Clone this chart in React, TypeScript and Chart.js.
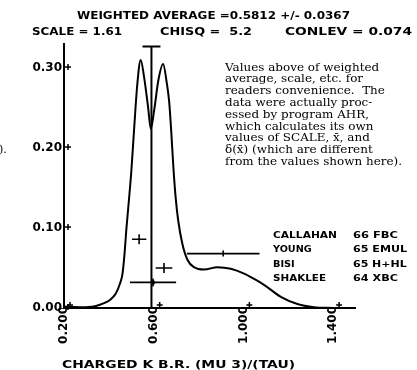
import React, { useEffect, useRef } from "react";
import { Chart, registerables } from "chart.js";

Chart.register(...registerables);

// Ideogram curve
const curveX = [0.2, 0.28, 0.334, 0.379, 0.409, 0.431, 0.45, 0.461, 0.47, 0.478, 0.488, 0.5, 0.513, 0.527, 0.542, 0.557, 0.575, 0.587, 0.602, 0.621, 0.642, 0.658, 0.669, 0.678, 0.688, 0.698, 0.709, 0.728, 0.751, 0.78, 0.825, 0.884, 0.944, 1.003, 1.05, 1.092, 1.167, 1.241, 1.315, 1.4];
const curveY = [0.002, 0.001, 0.002, 0.006, 0.011, 0.018, 0.031, 0.043, 0.068, 0.098, 0.13, 0.17, 0.225, 0.28, 0.31, 0.289, 0.251, 0.224, 0.247, 0.285, 0.305, 0.282, 0.258, 0.222, 0.175, 0.138, 0.11, 0.08, 0.06, 0.051, 0.048, 0.051, 0.049, 0.043, 0.036, 0.029, 0.014, 0.005, 0.001, 0.0];

// Measurements: centre, error, plotted height
const measX = [0.535, 0.646, 0.597, 0.91];
const measErr = [0.032, 0.037, 0.103, 0.162];
const measY = [0.086, 0.05, 0.032, 0.068];

// Weighted average marker
const avgX = 0.59;
const avgErr = 0.04;
const avgTop = 0.327;

const xTicks = [0.2, 0.6, 1.0, 1.4];
const xTickLabels = ["0.200", "0.600", "1.000", "1.400"];
const yTicks = [0, 0.1, 0.2, 0.3];
const yTickLabels = ["0.00", "0.10", "0.20", "0.30"];

const legendNames = ["CALLAHAN", "YOUNG", "BISI", "SHAKLEE"];
const legendInfo = ["66 FBC", "65 EMUL", "65 H+HL", "64 XBC"];

const titleLine = "WEIGHTED AVERAGE =0.5812 +/- 0.0367";
const statTexts = ["SCALE = 1.61", "CHISQ =  5.2", "CONLEV = 0.074"];
const xTitle = "CHARGED K B.R. (MU 3)/(TAU)";

const noteLines = [
  "Values above of weighted",
  "average, scale, etc. for",
  "readers convenience.  The",
  "data were actually proc-",
  "essed by program AHR,",
  "which calculates its own",
  "values of SCALE, x\u0304, and",
  "\u03b4(x\u0304) (which are different",
  "from the values shown here).",
];

const PLOT_FONT = "'DejaVu Sans', sans-serif";

function fitText(ctx: CanvasRenderingContext2D, text: string, x: number, y: number, w: number) {
  const m = ctx.measureText(text).width;
  ctx.save();
  ctx.translate(x, y);
  ctx.scale(w / m, 1);
  ctx.fillText(text, 0, 0);
  ctx.restore();
}

const decorPlugin = {
  id: "decor",
  afterDraw(chart: any) {
    const ctx: CanvasRenderingContext2D = chart.ctx;
    const xs = chart.scales.x;
    const ys = chart.scales.y;
    ctx.save();
    ctx.fillStyle = "#000";
    ctx.strokeStyle = "#000";
    ctx.textAlign = "left";
    ctx.textBaseline = "alphabetic";

    // plus-shaped tick marks
    ctx.lineWidth = 1.5;
    const plus = (cx: number, cy: number) => {
      ctx.beginPath();
      ctx.moveTo(cx - 3, cy);
      ctx.lineTo(cx + 3, cy);
      ctx.moveTo(cx, cy - 3);
      ctx.lineTo(cx, cy + 3);
      ctx.stroke();
    };
    xTicks.forEach((v) => plus(xs.getPixelForValue(v) + 6, ys.bottom - 3));
    yTicks.forEach((v) => plus(xs.left + 4, ys.getPixelForValue(v) - 1));

    // header
    ctx.font = "bold 11px " + PLOT_FONT;
    fitText(ctx, titleLine, 77, 18.5, 273);
    fitText(ctx, statTexts[0], 32, 35, 90);
    fitText(ctx, statTexts[1], 160, 35, 92);
    fitText(ctx, statTexts[2], 285, 35, 127);

    // legend
    ctx.font = "bold 9.5px " + PLOT_FONT;
    const nameW = [64, 38.7, 21.7, 53];
    const infoW = [45, 54, 53.7, 45];
    const base = [237.5, 252, 266.5, 281];
    legendNames.forEach((n, i) => {
      fitText(ctx, n, 273, base[i], nameW[i]);
      fitText(ctx, legendInfo[i], 353, base[i], infoW[i]);
    });

    // x axis title
    ctx.font = "bold 10.5px " + PLOT_FONT;
    fitText(ctx, xTitle, 62, 368, 233);

    // note text
    ctx.font = "10.5px 'DejaVu Serif', serif";
    const last = noteLines[noteLines.length - 1];
    const sx = 177 / ctx.measureText(last).width;
    noteLines.forEach((l, i) => {
      ctx.save();
      ctx.translate(225, 70.5 + i * 11.8);
      ctx.scale(sx, 1);
      ctx.fillText(l, 0, 0);
      ctx.restore();
    });
    // remnant of neighbouring text at left edge
    ctx.font = "11px 'DejaVu Serif', serif";
    ctx.fillText(").", -1, 153);
    ctx.restore();
  },
};

export default function App() {
  const ref = useRef<HTMLCanvasElement | null>(null);
  useEffect(() => {
    if (!ref.current) return;
    const black = "#000";
    const datasets: any[] = [];
    datasets.push({
      data: curveX.map((x, i) => ({ x, y: curveY[i] })),
      showLine: true,
      borderColor: black,
      borderWidth: 2,
      pointRadius: 0,
      cubicInterpolationMode: "monotone",
    });
    datasets.push({
      data: [{ x: avgX, y: 0 }, { x: avgX, y: avgTop }],
      showLine: true,
      borderColor: black,
      borderWidth: 2,
      pointRadius: 0,
    });
    datasets.push({
      data: [{ x: avgX - avgErr, y: avgTop }, { x: avgX + avgErr, y: avgTop }],
      showLine: true,
      borderColor: black,
      borderWidth: 2,
      pointRadius: 0,
    });
    measX.forEach((mx, i) => {
      datasets.push({
        data: [{ x: mx - measErr[i], y: measY[i] }, { x: mx + measErr[i], y: measY[i] }],
        showLine: true,
        borderColor: black,
        borderWidth: 1.6,
        pointRadius: 0,
      });
    });
    datasets.push({
      data: measX.map((x, i) => ({ x, y: measY[i] })),
      showLine: false,
      pointStyle: "line",
      rotation: 90,
      pointRadius: [5, 5, 4, 3],
      borderColor: black,
      borderWidth: 1.6,
    });
    datasets.push({
      data: [{ x: measX[2], y: measY[2] }],
      showLine: false,
      pointStyle: "circle",
      pointRadius: 2.2,
      backgroundColor: black,
      borderColor: black,
      borderWidth: 0,
    });

    const tickFont = { family: PLOT_FONT, size: 12, weight: "bold" as const };
    const chart = new Chart(ref.current, {
      type: "scatter",
      data: { datasets },
      options: {
        animation: false,
        responsive: false,
        devicePixelRatio: 1,
        events: [],
        layout: { padding: { left: 0, top: 44, right: 61.5, bottom: 0 } },
        plugins: { legend: { display: false }, tooltip: { enabled: false }, title: { display: false } },
        scales: {
          x: {
            type: "linear",
            position: "bottom",
            min: 0.2,
            max: 1.5,
            grid: { display: false, drawTicks: false, tickLength: 0 },
            border: { display: true, color: black, width: 2 },
            afterBuildTicks: (s: any) => {
              s.ticks = xTicks.map((v) => ({ value: v }));
            },
            afterFit: (s: any) => {
              s.height = 62;
            },
            ticks: {
              autoSkip: false,
              minRotation: 90,
              maxRotation: 90,
              padding: -2,
              color: black,
              font: tickFont,
              callback: (_v: any, i: number) => xTickLabels[i],
            },
          },
          y: {
            type: "linear",
            min: 0,
            max: 0.33,
            grid: { display: false, drawTicks: false, tickLength: 0 },
            border: { display: true, color: black, width: 2 },
            afterBuildTicks: (s: any) => {
              s.ticks = yTicks.map((v) => ({ value: v }));
            },
            afterFit: (s: any) => {
              s.width = 64;
            },
            ticks: {
              padding: 2,
              color: black,
              font: tickFont,
              callback: (_v: any, i: number) => yTickLabels[i],
            },
          },
        },
      },
      plugins: [decorPlugin],
    } as any);
    return () => chart.destroy();
  }, []);
  return (
    <div style={{ position: "absolute", left: 0, top: 0, width: 417, height: 370, background: "#fff" }}>
      <canvas ref={ref} width={417} height={370} style={{ display: "block" }} />
    </div>
  );
}
